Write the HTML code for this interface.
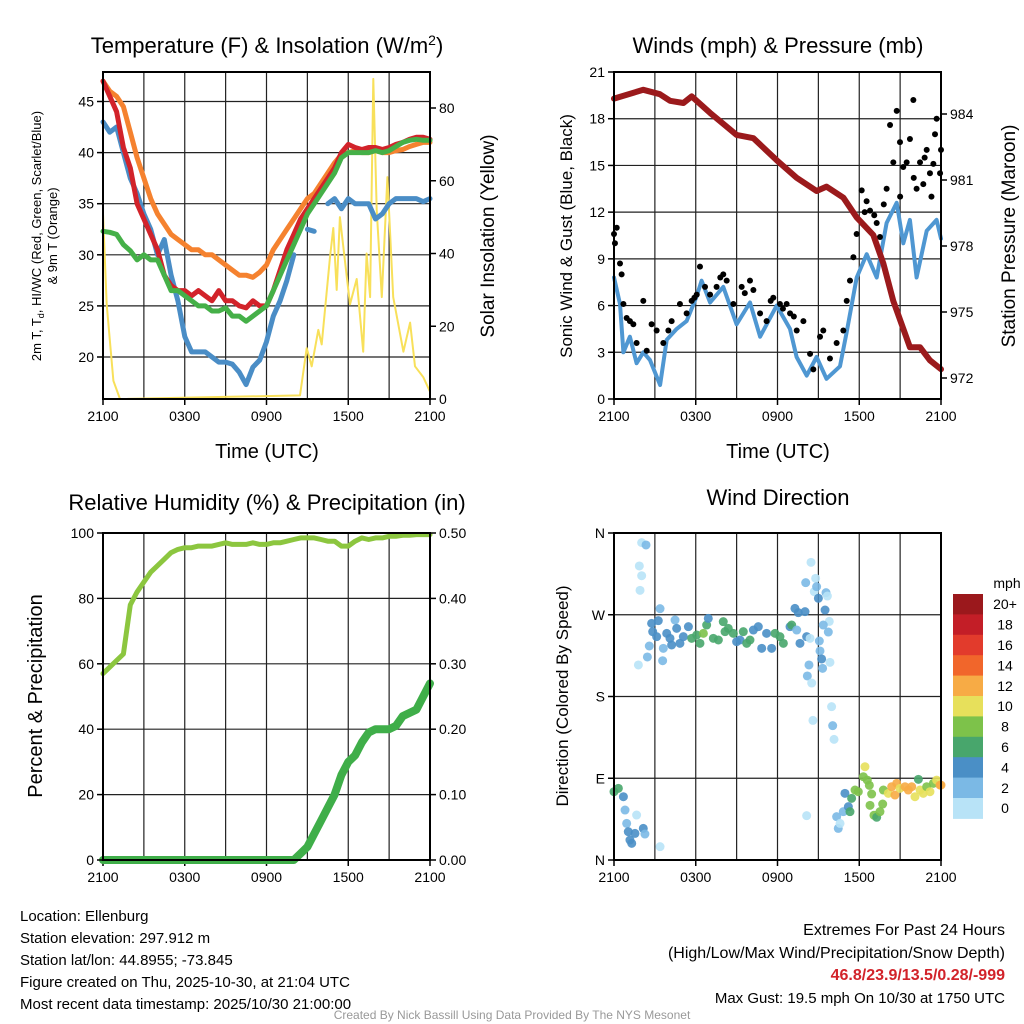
<!DOCTYPE html>
<html><head><meta charset="utf-8">
<style>
html,body{margin:0;padding:0;background:#fff;}
svg{display:block;font-family:"Liberation Sans",Arial,sans-serif;}
</style></head>
<body>
<svg id="chart" width="1024" height="1024" viewBox="0 0 1024 1024" xmlns="http://www.w3.org/2000/svg">
<rect x="0" y="0" width="1024" height="1024" fill="#fff"/>
<text x="267" y="53" font-size="22" text-anchor="middle">Temperature (F) &amp; Insolation (W/m<tspan dy="-8" font-size="14">2</tspan><tspan dy="8">)</tspan></text>
<text x="778" y="53" font-size="22" text-anchor="middle">Winds (mph) &amp; Pressure (mb)</text>
<text x="267" y="510" font-size="22" text-anchor="middle">Relative Humidity (%) &amp; Precipitation (in)</text>
<text x="778" y="505" font-size="22" text-anchor="middle">Wind Direction</text>

<text transform="translate(41,236) rotate(-90)" font-size="13" text-anchor="middle">2m T, T<tspan font-size="9" dy="3">d</tspan><tspan dy="-3">, HI/WC (Red, Green, Scarlet/Blue)</tspan></text>
<text transform="translate(57,236) rotate(-90)" font-size="13" text-anchor="middle">&amp; 9m T (Orange)</text>
<text transform="translate(494,236) rotate(-90)" font-size="19" text-anchor="middle">Solar Insolation (Yellow)</text>
<text transform="translate(572,236) rotate(-90)" font-size="17" text-anchor="middle">Sonic Wind &amp; Gust (Blue, Black)</text>
<text transform="translate(1015,236) rotate(-90)" font-size="19" text-anchor="middle">Station Pressure (Maroon)</text>
<text transform="translate(42,696) rotate(-90)" font-size="20" text-anchor="middle">Percent &amp; Precipitation</text>
<text transform="translate(568,696) rotate(-90)" font-size="17" text-anchor="middle">Direction (Colored By Speed)</text>
<text x="267" y="458" font-size="20" text-anchor="middle">Time (UTC)</text>
<text x="778" y="458" font-size="20" text-anchor="middle">Time (UTC)</text>

<g font-size="15">
<text x="20" y="921">Location: Ellenburg</text>
<text x="20" y="943">Station elevation: 297.912 m</text>
<text x="20" y="965">Station lat/lon: 44.8955; -73.845</text>
<text x="20" y="987">Figure created on Thu, 2025-10-30, at 21:04 UTC</text>
<text x="20" y="1009">Most recent data timestamp: 2025/10/30 21:00:00</text>
</g>
<g font-size="16" text-anchor="end">
<text x="1005" y="935">Extremes For Past 24 Hours</text>
<text x="1005" y="958">(High/Low/Max Wind/Precipitation/Snow Depth)</text>
<text x="1005" y="980" font-weight="bold" fill="#d2232a">46.8/23.9/13.5/0.28/-999</text>
<text x="1005" y="1003" font-size="15">Max Gust: 19.5 mph On 10/30 at 1750 UTC</text>
</g>
<text x="512" y="1019" font-size="12" fill="#999" text-anchor="middle">Created By Nick Bassill Using Data Provided By The NYS Mesonet</text>
</svg>
<script>
const hours = [0,0.5,1,1.5,2,2.5,3,3.5,4,4.5,5,5.5,6,6.5,7,7.5,8,8.5,9,9.5,10,10.5,11,11.5,12,12.5,13,13.5,14,14.5,15,15.5,16,16.5,17,17.5,18,18.5,19,19.5,20,20.5,21,21.5,22,22.5,23,23.5,24];
const xTickLabels = ["2100","0300","0900","1500","2100"];
const xTickHours = [0,6,12,18,24];
const tempRed = [47,45.5,44,40.5,38.5,35,33.5,32,30.5,28,27,26.5,26.5,26,26.5,26,25.5,26.5,25.5,25.5,25,24.8,25.5,25,25,26.5,28.5,30.5,32,33.5,34.5,35.5,36.5,37.5,38.5,40,40.8,40.5,40.3,40.5,40.5,40.3,40.5,40.8,41,41.3,41.5,41.5,41.3];
const tempOrange = [47,46,45.5,44.5,42,39.5,37.5,35.5,34,33,32,31.5,31,30.5,30.5,30,30,29.5,29,28.5,28,28,27.8,28.3,29,30.5,31.5,32.5,33.5,34.5,35.5,36,37,38,39,39.8,40,40.2,40,40,40.2,40,40,40.2,40.3,40.6,40.8,41,41];
const tempGreen = [32.3,32.2,32,31,30.4,29.5,30,29.5,29.5,28,26.5,26.5,26,25.5,25,25,24.5,24.5,24.8,24,24,23.5,24,24.5,25,26.5,28,29.5,31,32.5,34,35,36,37,38,39.5,40,40,40,40,40.2,40,40.2,40.6,41,41.2,41.3,41.2,41.2];
const tempBlue = [43,42,42.5,40,37.5,36,34,32.5,30,31.5,28,25.5,22,20.5,20.5,20.5,20,19.5,19.5,19.3,18.5,17.3,19,19.7,21.5,24,25.5,27.5,30,null,32.5,32.3,null,35,35.5,34.5,35.5,35,35,35,33.5,34,35,35.5,35.5,35.5,35.5,35.2,35.5];
const tempTicks = [20,25,30,35,40,45];
const solarHours = [0,0.27,0.76,1.25,14.46,14.95,15.32,15.8,16.05,16.66,16.9,17.15,17.39,17.88,18.13,18.62,19.1,19.35,19.6,19.84,20.09,20.46,20.87,21.3,22.05,22.54,22.9,23.51,24];
const solarValues = [51,26,5,0,1,14,9,19,15,39,47,30,50,34,26,33,13,40,28,88,52,28,61,28,13,21,9,6,2];
const solarTicks = [0,20,40,60,80];
const pressHours = [0,2.15,3.37,4.11,5.09,5.7,7.05,9.0,10.23,11.94,13.4,14.87,15.6,16.83,17.81,19.03,19.77,20.5,21.72,22.46,23.19,24];
const pressValues = [984.7,985.1,984.9,984.6,984.5,984.8,984.05,983.05,982.9,981.9,981.1,980.5,980.7,980.2,979.3,978.5,977.2,975.5,973.4,973.4,972.8,972.4];
const pressTicks = [972,975,978,981,984];
const windHours = [0,0.44,0.69,1.17,1.66,2.15,2.64,3.38,3.87,4.6,5.33,6.07,6.43,7.05,8.02,9.0,9.98,10.72,11.94,12.92,13.4,14.14,14.87,15.6,16.59,17.08,17.81,18.55,19.28,20.01,20.75,21.23,21.72,22.21,22.95,23.68,24];
const windValues = [7.8,6.1,3,4,2.3,3,2.5,0.9,3.8,4.5,5,6.6,7.6,6.2,7.2,4.8,6.2,4,6,4.5,2.7,1.5,2.7,1.3,2.1,4.3,7.8,9.3,7.8,11.3,12.6,10,11.5,7.8,10.8,11.5,10.3];
const gustHours = [0,0.2,0.07,0.44,0.56,0.69,0.93,1.17,1.42,1.66,2.15,2.4,2.76,3.13,3.62,3.99,4.23,4.84,5.33,5.7,6.07,6.31,6.68,7.05,7.53,8.02,8.27,8.76,9.37,9.98,10.23,10.72,11.2,11.69,12.18,12.67,12.92,13.41,13.9,14.39,14.63,15.12,15.36,15.85,16.34,16.83,17.08,17.32,17.57,17.81,18.18,18.54,18.79,19.28,19.52,20.01,20.26,20.5,20.75,20.99,21.23,21.48,21.72,21.97,22.21,22.46,22.7,22.95,23.19,23.44,23.56,23.68,23.93,24,5.9,7.8,9.6,11.5,12.4,13.2,18.4,19.1,19.8,21.0,22.0,22.8,23.3];
const gustValues = [10.6,11,10,8.7,8,6.1,5.2,5,4.8,3.6,6.3,3.1,4.8,4.4,3.6,4.4,5,6.1,5.5,6.3,6.7,8.5,7.2,6.7,7.2,8,7.6,6.1,7.2,7.6,7,5.5,5,6.5,6.1,6.1,5.5,4.4,5,2.9,1.9,4,4.4,2.6,3.6,4.4,6.3,7.6,9.1,10.6,13.4,12.7,12.1,11.3,10.4,13.5,17.6,15.2,18.5,16.5,14.9,15.2,16.7,19.2,13.5,15.2,13.8,16,14.5,15.1,17,18,14.5,16,6.5,7.8,6.8,6.3,5.8,5.3,12,11.8,12.5,13,14.2,15.5,13];
const windTicks = [0,3,6,9,12,15,18,21];
const rhValues = [57,59,61,63,78,82,85,88,90,92,94,95,95.5,95.5,96,96,96,96.5,97,96.5,96.5,96.5,97,96.5,96.5,97,97,97.5,98,98.5,98.5,98.5,98,97.5,97.5,96,96,97.5,98.5,98,98.5,98.5,99,99,99.3,99.3,99.5,99.5,99.5];
const precipValues = [0,0,0,0,0,0,0,0,0,0,0,0,0,0,0,0,0,0,0,0,0,0,0,0,0,0,0,0,0,0.01,0.02,0.04,0.06,0.08,0.1,0.13,0.15,0.16,0.18,0.195,0.2,0.2,0.2,0.205,0.22,0.225,0.23,0.25,0.27];
const rhTicks = [0,20,40,60,80,100];
const precipTicks = [0,0.1,0.2,0.3,0.4,0.5];
const precipTickLabels = ["0.00","0.10","0.20","0.30","0.40","0.50"];
const dirHours = [0,0.32,0.69,0.81,0.93,1.05,1.17,1.3,1.54,1.66,2.15,2.27,3.38,2.03,2.35,1.86,2.03,1.91,1.79,2.45,2.59,3.38,2.76,2.84,3.13,3.25,3.62,3.57,3.87,4.11,4.23,4.48,4.6,4.84,5.09,5.46,5.7,6.07,6.31,6.56,6.8,6.92,7.29,7.66,8.02,8.15,8.39,8.76,9.0,9.25,9.49,9.74,9.98,10.23,10.59,10.84,11.2,11.57,11.82,12.18,12.43,12.92,13.04,13.41,13.65,14.14,14.39,13.28,13.53,14.02,14.46,14.8,14.07,14.7,14.87,15,15.56,15.66,15.49,15.8,15.36,15.73,15.07,15.12,15.24,15.31,15.85,14.31,14.19,14.51,15.97,14.6,16.05,16.15,14.14,16.46,16.34,16.59,16.83,16.95,17.2,17.32,17.44,17.69,17.93,18.3,18.42,18.59,18.74,18.91,18.79,19.08,19.28,19.52,19.72,19.77,20.13,20.38,20.75,20.62,20.99,21.36,21.6,21.85,22.09,22.34,22.46,22.7,22.95,23.19,23.44,23.68,23.93,24];
const dirValues = [75.2,78.9,69.7,55,40.3,31.2,22,18.3,29.3,49.5,34.8,28.6,14.7,349.4,346.8,323.7,313,296.9,214.7,223.5,235.6,276.7,260.5,251.4,245.9,263.5,233,219.4,249.5,244,236.7,264.2,255,238.5,245.9,256.9,244,247.7,238.5,249.5,258.7,266,244,242.2,262.4,251.4,255,249.5,240.4,242.2,251.4,238.5,242.2,253.2,256.9,233,249.5,233,249.5,245.9,238.5,256.9,258.7,253.2,238.5,245.9,244,277,272.3,273.4,327.7,310.1,305.3,295.4,300.9,288.1,294.3,290.6,275.2,262.7,258.7,251,241.1,230.1,221.3,211,217.6,214.7,202.6,194.8,168.8,153.7,147.9,132.8,48.8,34.8,47.7,40.3,53.2,73.4,58.7,53.2,67.9,77,75.2,91.7,102.7,88,82.2,72.6,60.2,49.2,47,53.2,61.6,77,73.4,80.7,84.4,71.5,78.9,80.7,77,80.7,69.7,88.8,77,73.4,80.7,75.2,84.4,88,82.5,82.5];
const dirSpeeds = [7,7,5,3,3,5,5,5,5,1,5,3,1,1,3,1,1,1,1,3,3,3,5,5,5,5,3,3,5,5,5,3,5,5,5,5,7,7,7,9,7,5,7,7,7,7,7,7,5,5,7,7,7,5,5,5,5,5,7,7,7,5,7,3,5,5,1,5,5,5,1,1,3,1,3,5,3,1,5,1,3,3,3,3,5,3,1,3,3,1,1,1,3,1,1,3,3,1,3,5,5,7,7,9,9,9,11,9,9,9,9,9,7,9,9,9,11,13,13,13,11,13,13,13,11,7,11,11,9,11,9,11,13,13];
const dirTicks = [0,90,180,270,360];
const dirTickLabels = ["N","E","S","W","N"];
const speedBins = [0,2,4,6,8,10,12,14,16,18,20];
const speedBinLabels = ["0","2","4","6","8","10","12","14","16","18","20+"];
const speedColors = ["#b8e3f7","#7bb9e5","#4a8fc6","#48a66c","#7dc24a","#e7e05b","#f7ab45","#f1662b","#e23b2c","#c31e27","#9b181c"];

const NS = "http://www.w3.org/2000/svg";
const svg = document.getElementById("chart");
function mk(tag, attrs, parent){
  const e = document.createElementNS(NS, tag);
  for (const k in attrs) e.setAttribute(k, attrs[k]);
  (parent || svg).appendChild(e);
  return e;
}
function linScale(d0,d1,r0,r1){ return v => r0 + (v-d0)/(d1-d0)*(r1-r0); }

const panels = {
  temp:{x0:103,x1:430,y0:72,y1:399},
  wind:{x0:614,x1:941,y0:72,y1:399},
  rh:{x0:103,x1:430,y0:533,y1:860},
  dir:{x0:614,x1:941,y0:533,y1:860}
};

function drawFrame(p, name, yTicksPos, xLabelY){
  const g = mk("g", {});
  
  
  const xs = linScale(0,24,p.x0,p.x1);
  for (let h=3; h<24; h+=3){
    const l = mk("line",{x1:xs(h),x2:xs(h),y1:p.y0,y2:p.y1,stroke:"#222","stroke-width":1.2},g);
    
    
  }
  yTicksPos.forEach(y=>{
    const l = mk("line",{x1:p.x0,x2:p.x1,y1:y,y2:y,stroke:"#222","stroke-width":1.2},g);
    
    
  });
  xTickHours.forEach((h,i)=>{
    const t = mk("line",{x1:xs(h),x2:xs(h),y1:p.y1,y2:p.y1+6,stroke:"#000","stroke-width":1.5},g);
    
    
    const tx = mk("text",{x:xs(h),y:xLabelY,"font-size":14,"text-anchor":"middle"},g);
    tx.textContent = xTickLabels[i];
    
    
  });
}
function drawBorder(p,name){
  const r = mk("rect",{x:p.x0,y:p.y0,width:p.x1-p.x0,height:p.y1-p.y0,fill:"none",stroke:"#000","stroke-width":2});
  
  
}
function yAxisLabels(p, ticks, labels, ys, side, name){
  ticks.forEach((v,i)=>{
    const y = ys(v);
    const x = side==="left" ? p.x0 : p.x1;
    const dx = side==="left" ? -6 : 6;
    const t = mk("line",{x1:x,x2:x+dx,y1:y,y2:y,stroke:"#000","stroke-width":1.5});
    
    
    const tx = mk("text",{x: side==="left"? x-9 : x+9, y:y+5, "font-size":14, "text-anchor": side==="left"?"end":"start"});
    tx.textContent = labels[i];
    
    
  });
}
function pathFrom(xsArr, ysArr, xs, ys){
  let d = "", pen = false;
  for (let i=0;i<xsArr.length;i++){
    if (ysArr[i]===null){ pen=false; continue; }
    d += (pen?"L":"M") + xs(xsArr[i]).toFixed(1) + "," + ys(ysArr[i]).toFixed(1);
    pen = true;
  }
  return d;
}
function line(d, color, w, name, parent){
  const p = mk("path",{d:d,fill:"none",stroke:color,"stroke-width":w,"stroke-linejoin":"round","stroke-linecap":"round"},parent);
  
  
  return p;
}

/* ---- Temperature panel ---- */
(function(){
  const p = panels.temp;
  const xs = linScale(0,24,p.x0,p.x1);
  const ys = linScale(20,45,357,101.5);
  const ysR = linScale(0,80,399,108);
  drawFrame(p,"temp",tempTicks.map(ys),421);
  const g = mk("g",{});
  
  
  line(pathFrom(solarHours,solarValues,xs,ysR),"#f8e05a",2,"solar-line",g);
  line(pathFrom(hours,tempBlue,xs,ys),"#4a8dc6",5,"scarlet-blue-line",g);
  line(pathFrom(hours,tempOrange,xs,ys),"#f5822f",5,"orange-9m-line",g);
  line(pathFrom(hours,tempRed,xs,ys),"#d2232a",5,"red-2m-line",g);
  line(pathFrom(hours,tempGreen,xs,ys),"#45b048",5,"green-dewpoint-line",g);
  drawBorder(p,"temp");
  yAxisLabels(p,tempTicks,tempTicks.map(String),ys,"left","temp-y");
  yAxisLabels(p,solarTicks,solarTicks.map(String),ysR,"right","solar-y");
})();

/* ---- Wind panel ---- */
(function(){
  const p = panels.wind;
  const xs = linScale(0,24,p.x0,p.x1);
  const ys = linScale(0,21,399,72);
  const ysR = linScale(972,984,378,114);
  drawFrame(p,"wind",windTicks.map(ys),421);
  const g = mk("g",{});
  
  
  line(pathFrom(windHours,windValues,xs,ys),"#4f97d2",4,"sustained-wind-line",g);
  gustHours.forEach((h,i)=>{
    const c = mk("circle",{cx:xs(h),cy:ys(gustValues[i]),r:3,fill:"#000"},g);
    
    
  });
  line(pathFrom(pressHours,pressValues,xs,ysR),"#9b1a1c",6,"pressure-line",g);
  drawBorder(p,"wind");
  yAxisLabels(p,windTicks,windTicks.map(String),ys,"left","wind-y");
  yAxisLabels(p,pressTicks,pressTicks.map(String),ysR,"right","pressure-y");
})();

/* ---- RH panel ---- */
(function(){
  const p = panels.rh;
  const xs = linScale(0,24,p.x0,p.x1);
  const ys = linScale(0,100,860,533);
  const ysR = linScale(0,0.5,860,533);
  drawFrame(p,"rh",rhTicks.map(ys),882);
  const g = mk("g",{});
  
  
  line(pathFrom(hours,rhValues,xs,ys),"#8cc63f",5,"rh-line",g);
  line(pathFrom(hours,precipValues,xs,ysR),"#3fae49",8,"precip-line",g);
  drawBorder(p,"rh");
  yAxisLabels(p,rhTicks,rhTicks.map(String),ys,"left","rh-y");
  yAxisLabels(p,precipTicks,precipTickLabels,ysR,"right","precip-y");
})();

/* ---- Direction panel ---- */
(function(){
  const p = panels.dir;
  const xs = linScale(0,24,p.x0,p.x1);
  const ys = linScale(0,360,860,533);
  drawFrame(p,"dir",dirTicks.map(ys),882);
  const g = mk("g",{});
  
  
  dirHours.forEach((h,i)=>{
    const bin = Math.min(10, Math.floor(dirSpeeds[i]/2));
    const c = mk("circle",{cx:xs(h),cy:ys(dirValues[i]),r:4.5,fill:speedColors[bin],"fill-opacity":0.9},g);
    
    
  });
  drawBorder(p,"dir");
  yAxisLabels(p,dirTicks,dirTickLabels,ys,"left","dir-y");
  // colorbar
  const cb = mk("g",{});
  
  
  const bx = 953, bw = 30, top = 594, bh = 20.4;
  speedBins.forEach((b,i)=>{
    const idx = speedBins.length-1-i;
    const r = mk("rect",{x:bx,y:top+i*bh,width:bw,height:bh+0.5,fill:speedColors[idx]},cb);
    
    
    const t = mk("text",{x:1005,y:top+i*bh+bh/2+5,"font-size":14,"text-anchor":"middle"},cb);
    t.textContent = speedBinLabels[idx];
    
    
  });
  const u = mk("text",{x:1007,y:588,"font-size":14,"text-anchor":"middle"},cb);
  u.textContent = "mph";
  
  
})();
</script>
</body></html>
